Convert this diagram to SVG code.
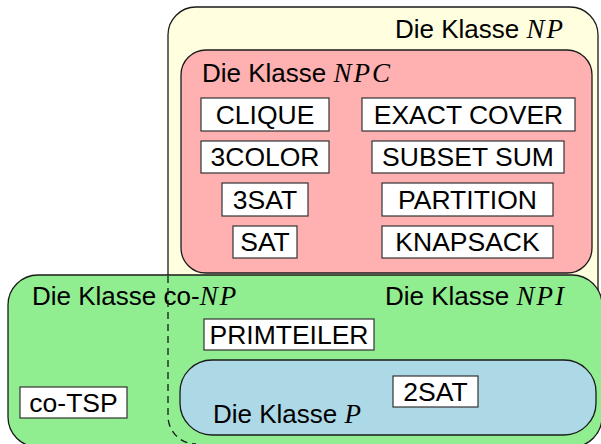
<svg xmlns="http://www.w3.org/2000/svg" width="601" height="444" viewBox="0 0 601 444">
  <style>
    .cls { stroke: #1a1a1a; stroke-width: 1.3; }
    .lbl { font-family: "Liberation Sans", Arial, sans-serif; font-size: 26px; fill: #000; }
    .cal { font-family: "Liberation Serif", "DejaVu Serif", serif; font-style: italic; font-size: 27px; letter-spacing: 2px; }
    .box rect { fill: #fff; stroke: #333; stroke-width: 1.2; }
    .box text { font-family: "Liberation Sans", Arial, sans-serif; font-size: 26.5px; fill: #000; text-anchor: middle; }
  </style>

  <!-- class NP -->
  <g id="np">
    <rect class="cls" x="168" y="7" width="430" height="437" rx="28" fill="#ffffe0"/>
    <text class="lbl" x="395" y="38">Die Klasse <tspan class="cal">NP</tspan></text>
  </g>

  <!-- class NPC -->
  <g id="npc">
    <rect class="cls" x="181" y="50" width="411" height="223" rx="25" fill="#ffb0b0"/>
    <text class="lbl" x="202" y="82">Die Klasse <tspan class="cal">NPC</tspan></text>
  </g>

  <!-- class co-NP -->
  <g id="conp">
    <rect class="cls" x="8" y="275" width="594" height="172" rx="30" fill="#90ee90"/>
    <text class="lbl" x="32" y="305">Die Klasse co-<tspan class="cal">NP</tspan></text>
  </g>

  <!-- NP boundary running through co-NP -->
  <g id="connectors">
    <path d="M168,276 V416 A28,28 0 0 0 196,444" fill="none" stroke="#1a1a1a" stroke-width="1.3" stroke-dasharray="7,5"/>
  </g>

  <!-- class NPI label -->
  <g id="npi">
    <text class="lbl" x="385" y="305">Die Klasse <tspan class="cal">NPI</tspan></text>
  </g>

  <!-- class P -->
  <g id="p">
    <rect class="cls" x="180" y="360" width="416" height="75" rx="32" fill="#add8e6"/>
    <text class="lbl" x="213" y="423">Die Klasse <tspan class="cal">P</tspan></text>
  </g>

  <!-- problems -->
  <g id="clique" class="box"><rect x="201" y="98" width="128" height="33"/><text x="265" y="124">CLIQUE</text></g>
  <g id="exact-cover" class="box"><rect x="362" y="98" width="213" height="33"/><text x="468.5" y="124">EXACT COVER</text></g>
  <g id="3color" class="box"><rect x="201" y="141" width="128" height="32"/><text x="265" y="166">3COLOR</text></g>
  <g id="subset-sum" class="box"><rect x="372" y="141" width="192" height="32"/><text x="468" y="166">SUBSET SUM</text></g>
  <g id="3sat" class="box"><rect x="222" y="183" width="86" height="33"/><text x="265" y="209">3SAT</text></g>
  <g id="partition" class="box"><rect x="382" y="183" width="171" height="33"/><text x="467.5" y="209">PARTITION</text></g>
  <g id="sat" class="box"><rect x="233" y="226" width="64" height="32"/><text x="265" y="251">SAT</text></g>
  <g id="knapsack" class="box"><rect x="382" y="226" width="171" height="32"/><text x="467.5" y="251">KNAPSACK</text></g>
  <g id="primteiler" class="box"><rect x="204" y="319" width="170" height="31"/><text x="289" y="343.5">PRIMTEILER</text></g>
  <g id="co-tsp" class="box"><rect x="20" y="387" width="107" height="31"/><text x="73.5" y="411.5">co-TSP</text></g>
  <g id="2sat" class="box"><rect x="393" y="376" width="85" height="31"/><text x="435.5" y="400.5">2SAT</text></g>
</svg>
